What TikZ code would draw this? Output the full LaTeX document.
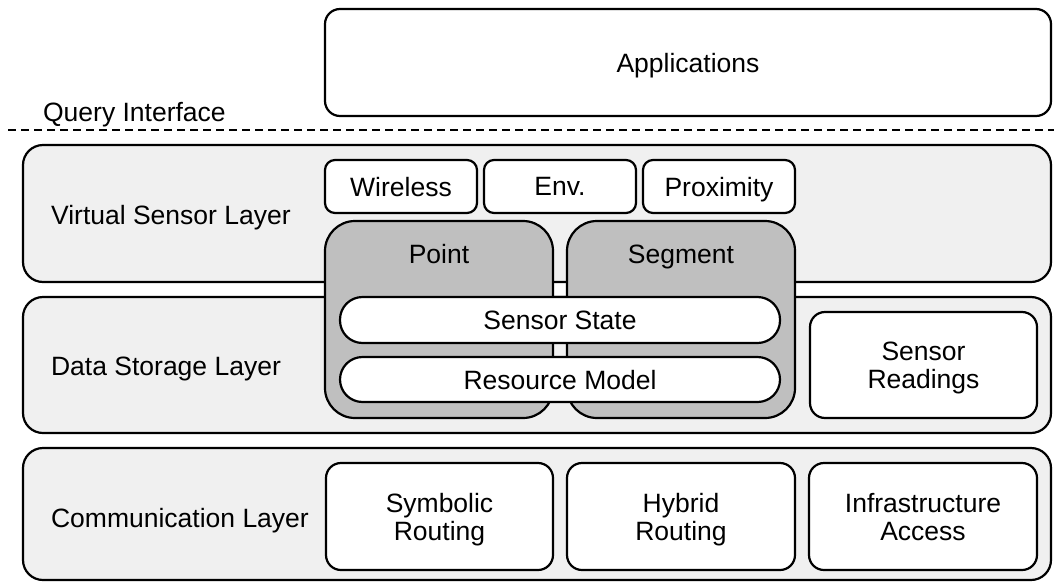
\documentclass[tikz,border=0pt]{standalone}
\usepackage{fontspec}
\setmainfont{Liberation Sans}

\begin{document}
\begin{tikzpicture}[x=1pt,y=-1pt,line width=2.2pt,
  font=\fontsize{26.5}{28}\selectfont,
  layer/.style={draw,fill=black!6,rounded corners=20pt,minimum width=1028pt,inner sep=0pt},
  unit/.style={draw,fill=white,rounded corners=15pt,align=center,inner sep=0pt,text depth=0pt},
  model/.style={draw,fill=black!25,rounded corners=30pt,minimum width=228pt,minimum height=197pt,inner sep=0pt},
  strip/.style={draw,fill=white,rounded corners=22.5pt,minimum width=440pt,inner sep=0pt,text depth=0pt},
  qline/.style={line width=1.6pt,dash pattern=on 8pt off 5pt}]
\useasboundingbox (0,0) rectangle (1054,581);
% 应用
\node[unit,minimum width=726pt,minimum height=107pt] (app) at (688,62.5) {Applications};
% 查询接口（虚线）
\coordinate (qL) at (8,130);
\coordinate (qR) at (1054,130);
\draw[qline] (qL) -- (qR);
\node[anchor=base west,inner sep=0pt] (query) at (42,121) {Query Interface};
% 三层底板
\node[layer,minimum height=137pt] (vsl) at (537,213.5) {};
\node[layer,minimum height=136pt] (dsl) at (537,365) {};
\node[layer,minimum height=132pt] (cl) at (537,514) {};
\node[anchor=base west,inner sep=0pt] (vsltxt) at (50,224) {Virtual Sensor Layer};
\node[anchor=base west,inner sep=0pt] (dsltxt) at (50,375) {Data Storage Layer};
\node[anchor=base west,inner sep=0pt] (cltxt) at (50,527) {Communication Layer};
% 虚拟传感器
\node[unit,minimum width=152pt,minimum height=53pt,rounded corners=10pt] (wireless) at (401,186.5) {Wireless};
\node[unit,minimum width=152pt,minimum height=53pt,rounded corners=10pt] (env) at (560,186.5) {Env.};
\node[unit,minimum width=152pt,minimum height=53pt,rounded corners=10pt] (prox) at (719,186.5) {Proximity};
% 点 / 段 模型（跨两层）
\node[model,label={[name=pointtxt,anchor=base,yshift=-44pt,inner sep=0pt]north:Point}] (point) at (439,319.5) {};
\node[model,label={[name=segtxt,anchor=base,yshift=-44pt,inner sep=0pt]north:Segment}] (segment) at (681,319.5) {};
\node[strip,minimum height=46pt] (state) at (560,320) {Sensor State};
\node[strip,minimum height=45pt] (resmodel) at (560,379.5) {Resource Model};
% 数据存储
\node[unit,minimum width=227pt,minimum height=106pt] (readings) at (923.5,365) {Sensor\\Readings};
% 通信
\node[unit,minimum width=227pt,minimum height=107pt] (symbolic) at (439.5,516.5) {Symbolic\\Routing};
\node[unit,minimum width=228pt,minimum height=107pt] (hybrid) at (681,516.5) {Hybrid\\Routing};
\node[unit,minimum width=228pt,minimum height=107pt] (infra) at (923,516.5) {Infrastructure\\Access};
\end{tikzpicture}
\end{document}
